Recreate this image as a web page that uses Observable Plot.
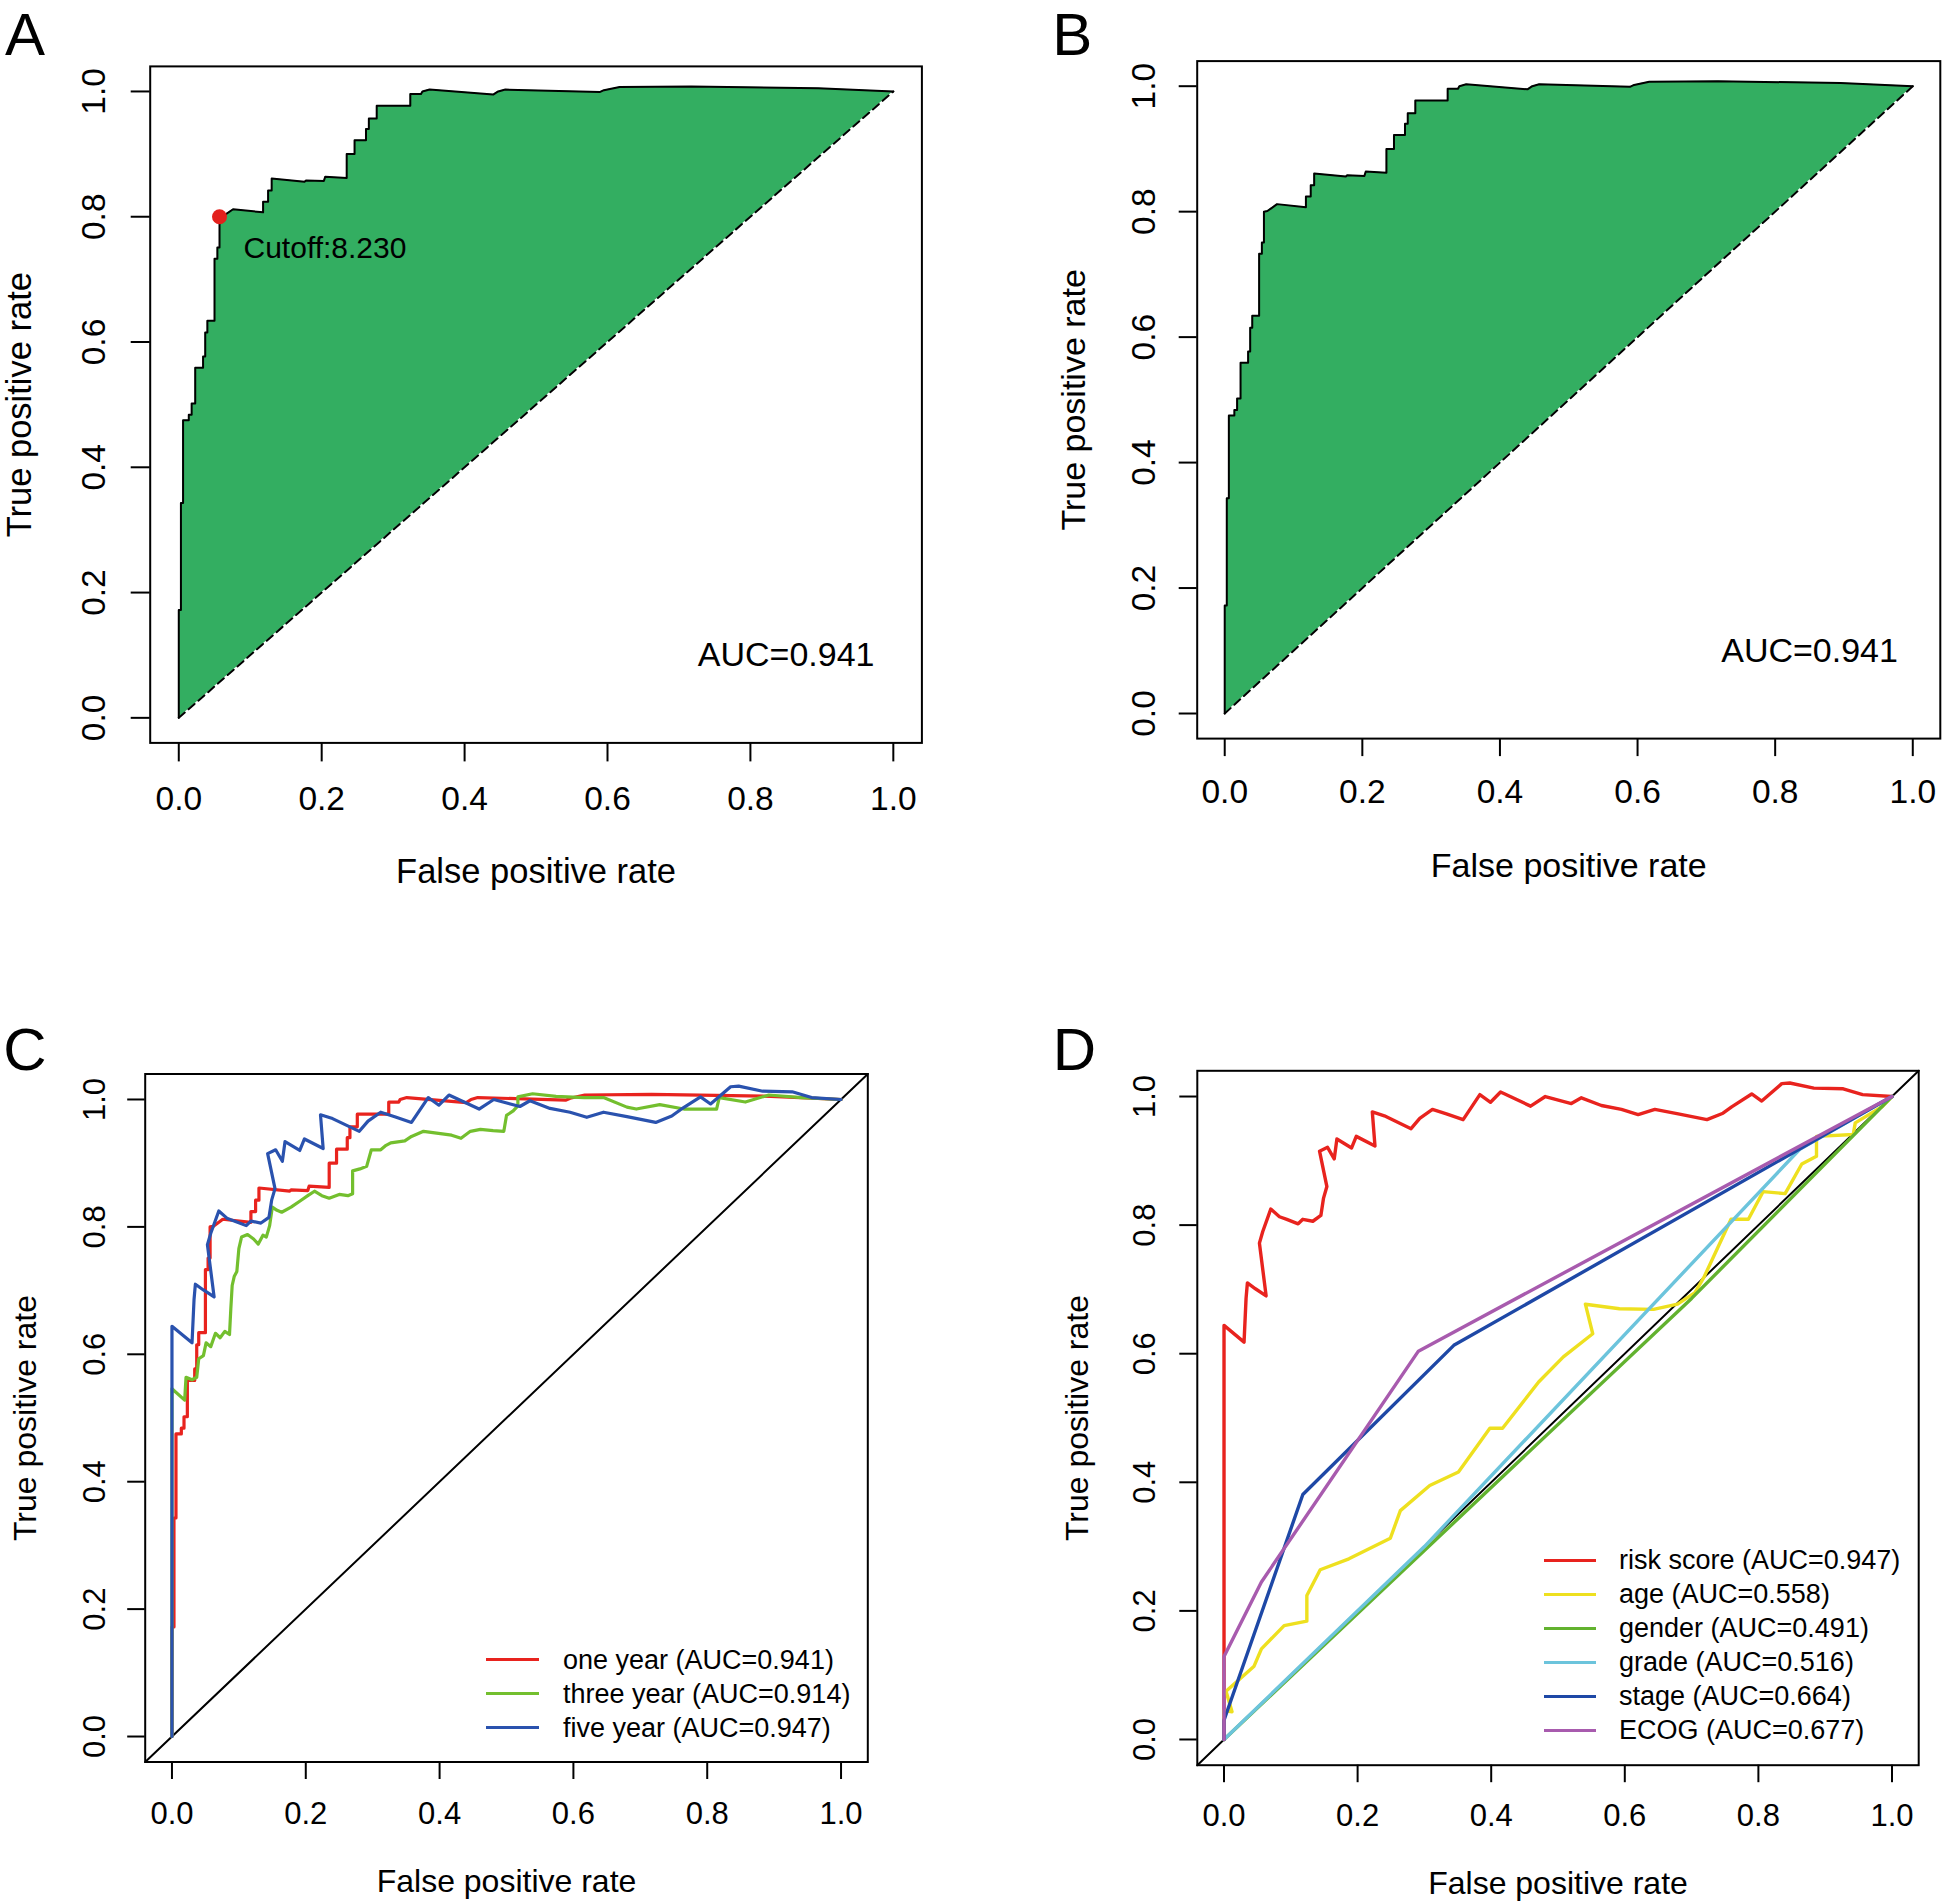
<!DOCTYPE html>
<html>
<head>
<meta charset="utf-8">
<script src="https://cdn.jsdelivr.net/npm/d3@7"></script>
<script src="https://cdn.jsdelivr.net/npm/@observablehq/plot@0.6"></script>
<style>
  html, body { margin: 0; padding: 0; background: #fff; }
  #root { position: relative; width: 1944px; height: 1903px; background: #fff; overflow: hidden;
          font-family: "Liberation Sans", Arial, Helvetica, sans-serif; color: #000; }
  .panel { position: absolute; }
  .panel svg { display: block; }
  .letter { position: absolute; font-size: 60px; line-height: normal; white-space: nowrap; }
  .lg-line { position: absolute; height: 3px; }
  .lg-text { position: absolute; font-size: 27px; line-height: 34px; height: 34px; white-space: nowrap; }
</style>
</head>
<body>
<div id="root"></div>
<script>
// ---------------- data ----------------
const tickValues = [0, 0.2, 0.4, 0.6, 0.8, 1.0];
const axisDomain = [-0.04, 1.04];
const chanceLine = [[0, 0], [1, 1]];

// [false positive rate, true positive rate]
const rocOneYear = [
  [0,0],[0,0.172],[0.003,0.172],[0.003,0.343],[0.006,0.343],[0.006,0.475],[0.014,0.475],[0.014,0.484],
  [0.018,0.484],[0.018,0.502],[0.023,0.502],[0.023,0.559],[0.034,0.559],[0.034,0.577],[0.037,0.577],
  [0.037,0.615],[0.040,0.615],[0.040,0.634],[0.050,0.634],[0.050,0.733],[0.054,0.733],[0.054,0.751],
  [0.057,0.751],[0.057,0.800],[0.062,0.801],[0.076,0.812],[0.118,0.807],[0.118,0.824],[0.125,0.824],
  [0.125,0.842],[0.130,0.842],[0.130,0.861],[0.176,0.856],[0.178,0.858],[0.203,0.857],[0.205,0.864],
  [0.235,0.862],[0.235,0.900],[0.246,0.900],[0.246,0.922],[0.262,0.922],[0.262,0.940],[0.266,0.940],
  [0.266,0.957],[0.277,0.957],[0.277,0.977],[0.324,0.977],[0.324,0.996],[0.339,0.996],[0.341,1.000],
  [0.351,1.003],[0.440,0.995],[0.447,1.000],[0.457,1.003],[0.589,0.999],[0.595,1.002],[0.617,1.007],
  [0.717,1.008],[0.895,1.005],[1,1]
];
const rocThreeYear = [
  [0,0],[0,0.546],[0.019,0.528],[0.021,0.564],[0.030,0.560],[0.037,0.564],[0.040,0.593],[0.047,0.598],
  [0.051,0.618],[0.058,0.612],[0.065,0.633],[0.072,0.626],[0.079,0.636],[0.086,0.631],[0.088,0.672],
  [0.090,0.708],[0.093,0.722],[0.097,0.730],[0.100,0.766],[0.104,0.784],[0.113,0.788],[0.122,0.781],
  [0.129,0.773],[0.136,0.787],[0.141,0.784],[0.146,0.802],[0.150,0.831],[0.157,0.826],[0.164,0.823],
  [0.178,0.831],[0.192,0.841],[0.203,0.849],[0.213,0.856],[0.224,0.849],[0.235,0.845],[0.250,0.851],
  [0.263,0.849],[0.270,0.852],[0.270,0.888],[0.281,0.891],[0.291,0.895],[0.298,0.921],[0.312,0.921],
  [0.320,0.928],[0.327,0.932],[0.348,0.935],[0.358,0.942],[0.376,0.950],[0.390,0.948],[0.404,0.946],
  [0.418,0.944],[0.432,0.939],[0.446,0.950],[0.461,0.953],[0.480,0.951],[0.496,0.950],[0.500,0.975],
  [0.510,0.982],[0.517,0.990],[0.517,1.004],[0.539,1.009],[0.574,1.005],[0.616,1.003],[0.645,1.003],
  [0.680,0.988],[0.694,0.985],[0.729,0.992],[0.765,0.985],[0.814,0.985],[0.818,1.003],[0.857,0.996],
  [0.892,1.007],[0.941,1.003],[1,1]
];
const rocFiveYear = [
  [0,0],[0,0.644],[0.030,0.618],[0.033,0.686],[0.035,0.710],[0.047,0.701],[0.063,0.690],[0.053,0.772],
  [0.058,0.790],[0.070,0.825],[0.083,0.813],[0.094,0.809],[0.111,0.802],[0.118,0.809],[0.133,0.806],
  [0.145,0.815],[0.149,0.842],[0.154,0.860],[0.143,0.915],[0.155,0.921],[0.165,0.903],[0.169,0.934],
  [0.191,0.920],[0.198,0.938],[0.226,0.923],[0.222,0.976],[0.240,0.970],[0.280,0.950],[0.293,0.966],
  [0.312,0.980],[0.333,0.973],[0.358,0.964],[0.383,1.003],[0.399,0.991],[0.414,1.007],[0.459,0.985],
  [0.481,1.000],[0.520,0.989],[0.535,0.998],[0.565,0.986],[0.595,0.980],[0.620,0.972],[0.645,0.980],
  [0.680,0.973],[0.723,0.964],[0.747,0.974],[0.760,0.984],[0.790,1.004],[0.805,0.993],[0.835,1.020],
  [0.847,1.021],[0.883,1.013],[0.927,1.012],[0.956,1.003],[1,1]
];
const rocAge = [
  [0,0],[0,0.045],[0.012,0.043],[0.003,0.075],[0.045,0.114],[0.056,0.141],[0.090,0.177],[0.124,0.184],
  [0.124,0.224],[0.144,0.264],[0.187,0.281],[0.249,0.313],[0.264,0.356],[0.308,0.395],[0.351,0.416],
  [0.398,0.484],[0.417,0.484],[0.471,0.556],[0.508,0.595],[0.552,0.631],[0.541,0.677],[0.592,0.670],
  [0.643,0.669],[0.679,0.677],[0.705,0.695],[0.719,0.720],[0.759,0.809],[0.785,0.809],[0.807,0.852],
  [0.840,0.849],[0.865,0.895],[0.887,0.907],[0.887,0.938],[0.942,0.941],[0.945,0.959],[0.985,0.984],[1,1]
];
const rocGender = [[0,0],[0.700,0.686],[1,1]];
const rocGrade  = [[0,0],[0.300,0.300],[0.862,0.918],[1,1]];
const rocStage  = [[0,0],[0,0.030],[0.118,0.381],[0.344,0.613],[1,1]];
const rocECOG   = [[0,0],[0,0.129],[0.056,0.245],[0.291,0.604],[1,1]];

const cutoffPoint = [[0.057, 0.800]];
const cutoffLabel = "Cutoff:8.230";
const aucLabel = "AUC=0.941";
const aucLabelAt = [[0.85, 0.1]];

const timeLabels = ["one year (AUC=0.941)", "three year (AUC=0.914)", "five year (AUC=0.947)"];
const timeColors = ["#E8231E", "#73BF2E", "#2A52AE"];
const clinLabels = ["risk score (AUC=0.947)", "age (AUC=0.558)", "gender (AUC=0.491)",
                    "grade (AUC=0.516)", "stage (AUC=0.664)", "ECOG (AUC=0.677)"];
const clinColors = ["#E8231E", "#EEE01F", "#62B22F", "#6CC4DC", "#1E48A6", "#A85BAE"];

// ---------------- drawing ----------------
const FONT = '"Liberation Sans", Arial, Helvetica, sans-serif';
const fmt = d => d.toFixed(1);
const X = d => d[0], Y = d => d[1];
const root = document.getElementById("root");

function makePanel(c, dataMarks) {
  const svg = Plot.plot({
    width: c.width, height: c.height,
    marginLeft: c.ml, marginRight: c.mr, marginTop: c.mt, marginBottom: c.mb,
    x: {domain: axisDomain},
    y: {domain: axisDomain},
    style: {fontFamily: FONT, color: "#000", background: "transparent", maxWidth: "none", overflow: "visible"},
    marks: [
      ...dataMarks,
      Plot.frame({stroke: "#000", strokeWidth: 2}),
      Plot.axisX({ticks: tickValues, tickSize: c.tick, tickPadding: c.xpad, tickFormat: fmt,
                  fontSize: c.fTick, stroke: "#000", strokeWidth: 2, fill: "#000", label: null}),
      Plot.axisY({ticks: tickValues, tickSize: c.tick, tickFormat: () => "",
                  stroke: "#000", strokeWidth: 2, label: null}),
      Plot.text(tickValues, {y: d => d, text: fmt, frameAnchor: "left", dx: -c.ylab, rotate: -90,
                             textAnchor: "middle", lineAnchor: "middle", fontSize: c.fTick, fill: "#000"}),
      Plot.text(["False positive rate"], {frameAnchor: "bottom", dy: c.xtitle, textAnchor: "middle",
                             lineAnchor: "middle", fontSize: c.fTitle, fill: "#000"}),
      Plot.text(["True positive rate"], {frameAnchor: "left", dx: -c.ytitle, rotate: -90, textAnchor: "middle",
                             lineAnchor: "middle", fontSize: c.fTitle, fill: "#000"})
    ]
  });
  const div = document.createElement("div");
  div.className = "panel";
  div.style.left = c.left + "px";
  div.style.top = c.top + "px";
  div.style.width = c.width + "px";
  div.style.height = c.height + "px";
  div.appendChild(svg);
  root.appendChild(div);
}

function rocFillMarks(data) {
  return [
    Plot.areaY(data, {x: X, y1: X, y2: Y, fill: "#33AE61"}),
    Plot.line(chanceLine, {x: X, y: Y, stroke: "#000", strokeWidth: 2, strokeDasharray: "8,5"}),
    Plot.line(data, {x: X, y: Y, stroke: "#000", strokeWidth: 2}),
    Plot.text(aucLabelAt, {x: X, y: Y, text: () => aucLabel, fontSize: 34, fill: "#000",
                           textAnchor: "middle", lineAnchor: "middle"})
  ];
}

const fullDiagonal = axisDomain.map(v => [v, v]);

// Panel A
makePanel({left: 0, top: 0, width: 960, height: 930, ml: 149.7, mr: 38.6, mt: 65.9, mb: 187.6,
           tick: 19, xpad: 24, fTick: 33.5, fTitle: 34.5, ylab: 55.5, xtitle: 129, ytitle: 130.5},
  [
    ...rocFillMarks(rocOneYear),
    Plot.dot(cutoffPoint, {x: X, y: Y, r: 7.5, fill: "#E3201C", stroke: "none"}),
    Plot.text(cutoffPoint, {x: X, y: Y, text: () => cutoffLabel, dx: 24, dy: 32, textAnchor: "start",
                            lineAnchor: "middle", fontSize: 30, fill: "#000"})
  ]);

// Panel B
makePanel({left: 960, top: 0, width: 984, height: 930, ml: 236.7, mr: 4.2, mt: 60.6, mb: 191.9,
           tick: 18, xpad: 23, fTick: 33.5, fTitle: 34, ylab: 52.5, xtitle: 127.5, ytitle: 123.5},
  rocFillMarks(rocOneYear));

// Panel C
makePanel({left: 0, top: 940, width: 960, height: 963, ml: 144.7, mr: 92.7, mt: 133.5, mb: 141.5,
           tick: 17.5, xpad: 22, fTick: 31, fTitle: 32, ylab: 50.5, xtitle: 120, ytitle: 119},
  [
    Plot.line(fullDiagonal, {x: X, y: Y, stroke: "#000", strokeWidth: 2}),
    Plot.line(rocOneYear, {x: X, y: Y, stroke: timeColors[0], strokeWidth: 3.2}),
    Plot.line(rocThreeYear, {x: X, y: Y, stroke: timeColors[1], strokeWidth: 3.2}),
    Plot.line(rocFiveYear, {x: X, y: Y, stroke: timeColors[2], strokeWidth: 3.2})
  ]);

// Panel D
const clinSeries = [rocFiveYear, rocAge, rocGender, rocGrade, rocStage, rocECOG];
makePanel({left: 960, top: 940, width: 984, height: 963, ml: 236.8, mr: 25.8, mt: 130.3, mb: 138.3,
           tick: 17.5, xpad: 21, fTick: 31, fTitle: 32, ylab: 52, xtitle: 118.5, ytitle: 120},
  [
    Plot.line(fullDiagonal, {x: X, y: Y, stroke: "#000", strokeWidth: 2}),
    ...clinSeries.map((s, i) => Plot.line(s, {x: X, y: Y, stroke: clinColors[i], strokeWidth: 3.4}))
  ]);

// Panel letters
[["A", 5, 0], ["B", 1052.3, 0], ["C", 3.2, 1015.3], ["D", 1052.8, 1015.3]].forEach(([t, l, tp]) => {
  const d = document.createElement("div");
  d.className = "letter";
  d.textContent = t;
  d.style.left = l + "px";
  d.style.top = tp + "px";
  root.appendChild(d);
});

// Legends
function addLegend(labels, colors, lineLeft, lineWidth, textLeft, firstRow, step) {
  labels.forEach((lab, i) => {
    const cy = firstRow + i * step;
    const ln = document.createElement("div");
    ln.className = "lg-line";
    ln.style.left = lineLeft + "px";
    ln.style.width = lineWidth + "px";
    ln.style.top = (cy - 1.5) + "px";
    ln.style.background = colors[i];
    root.appendChild(ln);
    const tx = document.createElement("div");
    tx.className = "lg-text";
    tx.textContent = lab;
    tx.style.left = textLeft + "px";
    tx.style.top = (cy - 17) + "px";
    root.appendChild(tx);
  });
}
addLegend(timeLabels, timeColors, 486, 53, 563, 1659.5, 34);
addLegend(clinLabels, clinColors, 1543.5, 52, 1619, 1560, 34);
</script>
</body>
</html>
